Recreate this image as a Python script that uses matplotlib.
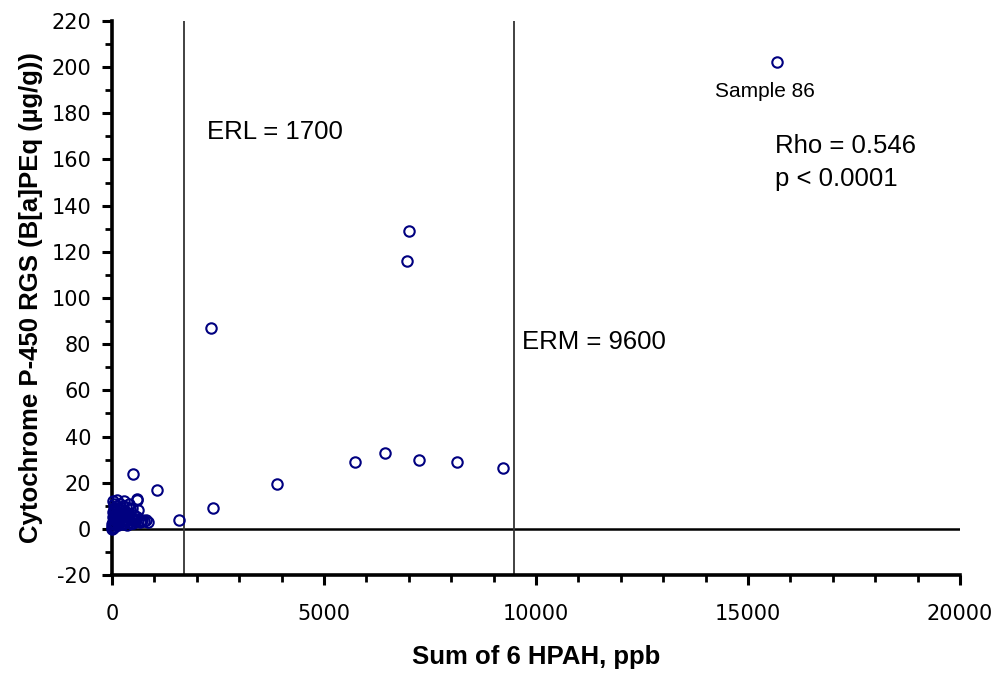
import matplotlib
matplotlib.use("Agg")
import matplotlib.pyplot as plt
from matplotlib.ticker import MultipleLocator

plt.rcParams['font.family'] = ['Liberation Sans', 'DejaVu Sans']
plt.rcParams['axes.unicode_minus'] = False

# Data: sum of 6 HPAH (ppb) vs Cytochrome P-450 RGS (B[a]PEq, ug/g)
hpah = [15684, 7005, 6950, 2335, 5738, 6446, 7248, 8144, 9222, 3890, 2385, 1580, 1060, 502, 596,
        10, 20, 30, 40, 50, 60, 70, 80, 90, 100, 110, 120, 140, 150, 160, 180, 200, 210,
        230, 250, 260, 280, 300, 320, 340, 350, 370, 390, 400, 420, 440, 460, 480, 500,
        520, 540, 560, 600, 620, 650, 700, 750, 800, 850,
        15, 35, 55, 75, 95, 130, 170, 220, 270, 310, 360, 410, 450, 590, 680, 25, 45, 65, 5, 8]
rgs = [202, 129, 116, 87, 29, 33, 30, 29, 26.5, 19.5, 9.2, 4.0, 17.0, 24.0, 13.0,
       1.0, 3.0, 12.0, 6.0, 11.0, 2.0, 8.0, 5.0, 10.0, 4.0, 7.0, 12.5, 3.0, 9.0, 6.0, 11.0, 4.5, 8.0,
       2.5, 10.0, 5.5, 12.0, 3.5, 7.5, 9.5, 4.0, 6.5, 11.0, 3.0, 8.5, 5.0, 4.0, 9.0, 2.5,
       6.0, 3.5, 4.5, 12.5, 8.0, 3.0, 4.0, 3.5, 4.0, 3.0,
       0.5, 5.0, 9.0, 2.0, 6.5, 1.5, 3.0, 7.0, 2.0, 5.5, 1.5, 6.0, 2.5, 5.0, 3.5, 7.5, 1.0, 4.0, 2.0, 0.0]

erl_x = 1700
erm_x = 9480
xmin, xmax = 0, 20000
ymin, ymax = -20, 220

fig = plt.figure(figsize=(10, 6.75), dpi=100)
ax = fig.add_axes([0.112, 0.148, 0.848, 0.821])

ax.plot(hpah, rgs, linestyle='none', marker='o', markersize=7.5, markerfacecolor='none',
        markeredgecolor='#000080', markeredgewidth=1.5, zorder=3, clip_on=False)

ax.axhline(0, color='black', lw=1.8, zorder=2)
ax.axvline(erl_x, color='#333333', lw=1.3, zorder=2)
ax.axvline(erm_x, color='#333333', lw=1.3, zorder=2)

ax.set_xlim(xmin, xmax)
ax.set_ylim(ymin, ymax)

ax.xaxis.set_major_locator(MultipleLocator(5000))
ax.xaxis.set_minor_locator(MultipleLocator(1000))
ax.yaxis.set_major_locator(MultipleLocator(20))
ax.yaxis.set_minor_locator(MultipleLocator(10))

for s in ['top', 'right']:
    ax.spines[s].set_visible(False)
for s in ['left', 'bottom']:
    ax.spines[s].set_linewidth(2.6)

ax.tick_params(axis='both', which='major', direction='out', length=7, width=2.2, labelsize=15)
ax.tick_params(axis='both', which='minor', direction='out', length=5, width=2.0)
ax.tick_params(axis='x', which='major', pad=14)
ax.tick_params(axis='y', which='major', pad=8)
for lbl in ax.get_xticklabels() + ax.get_yticklabels():
    lbl.set_fontfamily('DejaVu Sans')

ax.set_xlabel('Sum of 6 HPAH, ppb', fontsize=18.5, fontweight='bold', labelpad=15)
ax.set_ylabel('Cytochrome P-450 RGS (B[a]PEq (µg/g))', fontsize=18.5, fontweight='bold', labelpad=6)

ax.text(2240, 172, 'ERL = 1700', fontsize=18.5, va='center', ha='left')
ax.text(9670, 81, 'ERM = 9600', fontsize=18.5, va='center', ha='left')
ax.text(15389, 189.3, 'Sample 86', fontsize=15, va='center', ha='center')
ax.text(15637, 166, 'Rho = 0.546', fontsize=18.5, va='center', ha='left')
ax.text(15637, 151.5, 'p < 0.0001', fontsize=18.5, va='center', ha='left')

fig.savefig('out.png', dpi=100, facecolor='white')
